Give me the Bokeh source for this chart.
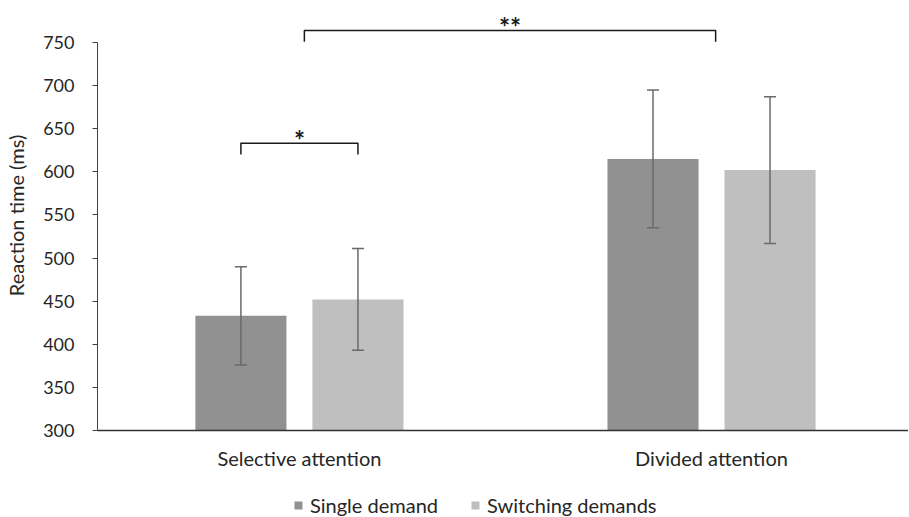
from bokeh.plotting import figure
from bokeh.layouts import column
from bokeh.models import (Range1d, FixedTicker, Whisker, ColumnDataSource, Legend,
                          LegendItem, TeeHead)
from bokeh.core.properties import value
from bokeh.embed import file_html
from bokeh.resources import INLINE

categories = ["Selective attention", "Divided attention"]
series_names = ["Single demand", "Switching demands"]
series_colors = ["#919191", "#bfbfbf"]
single_demand = [433, 615]
switching_demands = [452, 602]
single_err = [57, 80]
switching_err = [59, 85]
y_ticks = [300, 350, 400, 450, 500, 550, 600, 650, 700, 750]
bracket_labels = ["*", "**"]
bracket_heights = [633, 764]

FONT = "Lato"
TXT = "#262626"
OFFSET = 0.142
BAR_W = 0.221
DROP = 13
W = 908
LEFT = 97

xc = [i + 0.5 for i in range(len(categories))]

p = figure(width=W, height=480, x_range=Range1d(0.01, 1.978),
           y_range=Range1d(300, 798.7), output_backend="svg", toolbar_location=None,
           min_border_left=LEFT, min_border_right=0, min_border_top=0,
           min_border_bottom=50)
p.outline_line_color = None
p.xgrid.visible = False
p.ygrid.visible = False

src1 = ColumnDataSource(dict(
    x=[c - OFFSET for c in xc], top=single_demand,
    upper=[v + e for v, e in zip(single_demand, single_err)],
    lower=[v - e for v, e in zip(single_demand, single_err)]))
src2 = ColumnDataSource(dict(
    x=[c + OFFSET for c in xc], top=switching_demands,
    upper=[v + e for v, e in zip(switching_demands, switching_err)],
    lower=[v - e for v, e in zip(switching_demands, switching_err)]))

r1 = p.vbar(x="x", top="top", bottom=300, width=BAR_W, source=src1,
            fill_color=series_colors[0], line_color=None)
r2 = p.vbar(x="x", top="top", bottom=300, width=BAR_W, source=src2,
            fill_color=series_colors[1], line_color=None)

EC = "#6a6a6a"
for s in (src1, src2):
    p.add_layout(Whisker(source=s, base="x", upper="upper", lower="lower",
                         level="overlay", line_color=EC, line_width=1.5,
                         upper_head=TeeHead(size=12, line_color=EC, line_width=1.5),
                         lower_head=TeeHead(size=12, line_color=EC, line_width=1.5)))

# significance brackets
b_left = [xc[0] - OFFSET, xc[0] + 0.012]
b_right = [xc[0] + OFFSET, xc[1] + 0.01]
xs = [[l, l, r, r] for l, r in zip(b_left, b_right)]
ys = [[h - DROP, h, h, h - DROP] for h in bracket_heights]
p.multi_line(xs=xs, ys=ys, line_color="#1a1a1a", line_width=1.5, line_join="round")
p.text(x=[(l + r) / 2 for l, r in zip(b_left, b_right)], y=bracket_heights,
       text=bracket_labels, text_align="center", text_baseline="middle",
       y_offset=-3, text_font_size="26px", text_font_style="bold",
       text_color="#1a1a1a", text_font=value(FONT))

# y axis
p.yaxis.bounds = (300, 750)
p.yaxis.ticker = FixedTicker(ticks=y_ticks)
p.yaxis.minor_tick_line_color = None
p.yaxis.major_tick_in = 0
p.yaxis.major_tick_out = 5
p.yaxis.major_tick_line_color = "#404040"
p.yaxis.axis_line_color = "#404040"
p.yaxis.major_label_standoff = 18
p.yaxis.major_label_text_font = FONT
p.yaxis.major_label_text_font_size = "18px"
p.yaxis.major_label_text_color = TXT
p.yaxis.axis_label = "Reaction time (ms)"
p.yaxis.axis_label_text_font = FONT
p.yaxis.axis_label_text_font_size = "20px"
p.yaxis.axis_label_text_font_style = "normal"
p.yaxis.axis_label_text_color = TXT
p.yaxis.axis_label_standoff = 12

# x axis
p.xaxis.ticker = FixedTicker(ticks=xc)
p.xaxis.major_label_overrides = {c: n for c, n in zip(xc, categories)}
p.xaxis.minor_tick_line_color = None
p.xaxis.major_tick_line_color = None
p.xaxis.major_tick_out = 0
p.xaxis.major_tick_in = 0
p.xaxis.axis_line_color = "#333333"
p.xaxis.axis_line_width = 1.5
p.xaxis.major_label_standoff = 15
p.xaxis.major_label_text_font = FONT
p.xaxis.major_label_text_font_size = "20px"
p.xaxis.major_label_text_color = TXT

# legend strip below the chart (its frame is aligned with the chart frame)
lg = figure(width=W, height=37, x_range=Range1d(0, 1), y_range=Range1d(0, 1),
            output_backend="svg", toolbar_location=None, min_border_left=0,
            min_border_right=0, min_border_top=0, min_border_bottom=0)
lg.axis.visible = False
lg.xgrid.visible = False
lg.ygrid.visible = False
lg.outline_line_color = None
# off-range proxies that only supply the legend swatches
lr = [lg.vbar(x=[5], top=[5], bottom=[4], width=1, fill_color=c, line_color=None)
      for c in series_colors]
legend = Legend(items=[LegendItem(label=n, renderers=[r])
                       for n, r in zip(series_names, lr)],
                orientation="horizontal", location=(293 - LEFT, 0),
                border_line_color=None, background_fill_alpha=0,
                glyph_width=10, glyph_height=10, spacing=32, padding=0,
                label_text_font=FONT, label_text_font_size="20px",
                label_text_color=TXT, label_standoff=7)
lg.add_layout(legend, "center")

open("out.html", "w").write(file_html(column(p, lg, spacing=0), INLINE))
